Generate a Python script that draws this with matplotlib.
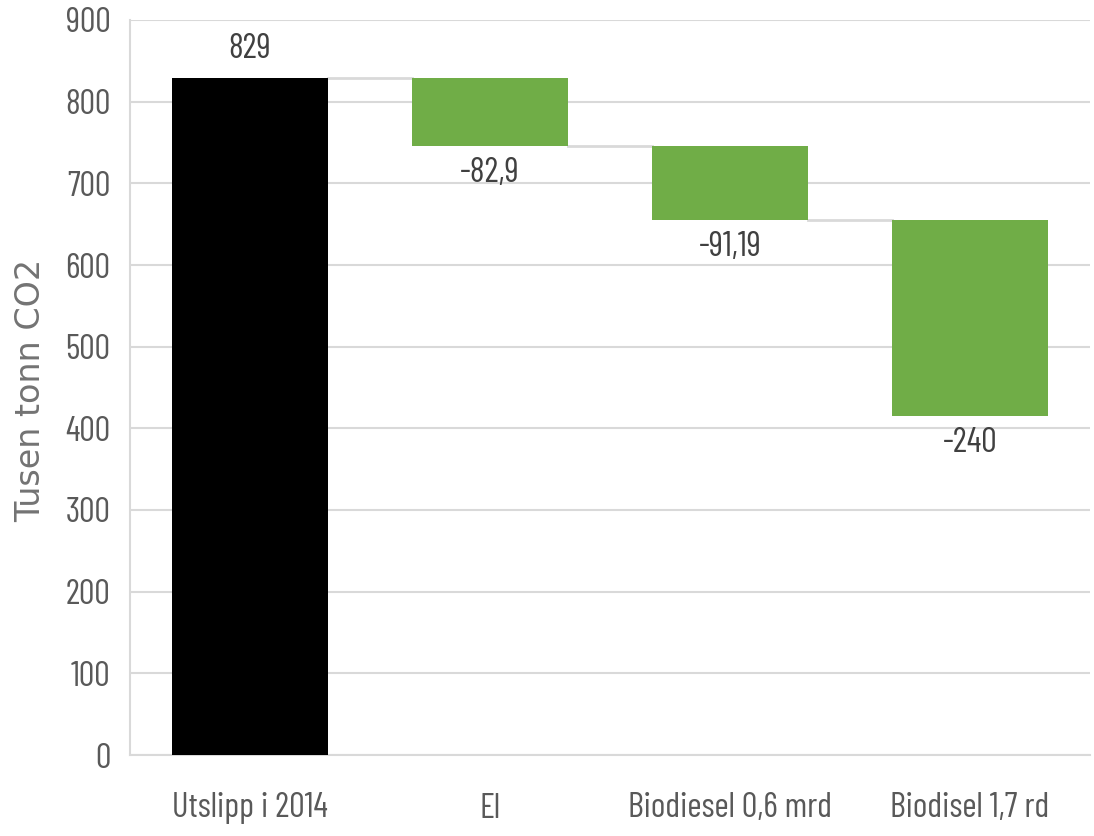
import matplotlib
matplotlib.use("Agg")
import matplotlib.pyplot as plt
from matplotlib import font_manager as fm

categories = ["Utslipp i 2014", "El", "Biodiesel 0,6 mrd", "Biodisel 1,7 rd"]
values = [829, -82.9, -91.19, -240]
labels = ["829", "-82,9", "-91,19", "-240"]
y_ticks = [0, 100, 200, 300, 400, 500, 600, 700, 800, 900]

names = {f.name for f in fm.fontManager.ttflist}
narrow = "Liberation Sans"
for cand in ["Barlow Condensed", "Archivo Narrow", "Liberation Sans Narrow"]:
    if cand in names:
        narrow = cand
        break
FS = 25

GREEN = "#70AD47"
GRID = "#D9D9D9"
TXT = "#595959"

fig = plt.figure(figsize=(10.94, 8.36), dpi=100)
ax = fig.add_axes([130/1094, 1-755/836, 960/1094, 735/836])

bottoms, heights, colors = [], [], []
cum = 0
for i, v in enumerate(values):
    if i == 0:
        bottoms.append(0); heights.append(v); colors.append("black")
        cum = v
    else:
        new = cum + v
        bottoms.append(new); heights.append(-v); colors.append(GREEN)
        cum = new

w = 0.65
x = list(range(len(categories)))
ax.bar(x, heights, bottom=bottoms, width=w, color=colors, zorder=3)

levels = []
cum = 0
for v in values:
    cum += v
    levels.append(cum)
for i in range(len(values) - 1):
    ax.plot([x[i] + w/2, x[i+1] - w/2], [levels[i], levels[i]], color=GRID, lw=2, zorder=2)

for i, v in enumerate(values):
    if v >= 0:
        ax.annotate(labels[i], (x[i], bottoms[i] + heights[i]), xytext=(0, 9),
                    textcoords="offset points", ha="center", va="bottom",
                    fontsize=FS, family=narrow, color="#404040")
    else:
        ax.annotate(labels[i], (x[i], bottoms[i]), xytext=(0, -8),
                    textcoords="offset points", ha="center", va="top",
                    fontsize=FS, family=narrow, color="#404040")

ax.set_xlim(-0.5, 3.5)
ax.set_ylim(0, 900)
ax.set_yticks(y_ticks)
ax.set_xticks(x)
ax.set_xticklabels(categories)
ax.yaxis.grid(True, color=GRID, lw=1.5, zorder=0)
ax.set_axisbelow(True)
for s in ["top", "right"]:
    ax.spines[s].set_visible(False)
for s in ["left", "bottom"]:
    ax.spines[s].set_color(GRID)
    ax.spines[s].set_linewidth(1.5)
ax.tick_params(axis="both", length=0, colors=TXT, labelsize=FS)
ax.tick_params(axis="y", pad=14)
ax.tick_params(axis="x", pad=27)
for lab in ax.get_xticklabels() + ax.get_yticklabels():
    lab.set_family(narrow)

fig.text(31/1094, 1-390/836, "Tusen tonn CO2", rotation=90, ha="center", va="center",
         fontsize=24, color="#737373", family="DejaVu Sans")

fig.savefig("out.png", dpi=100)
